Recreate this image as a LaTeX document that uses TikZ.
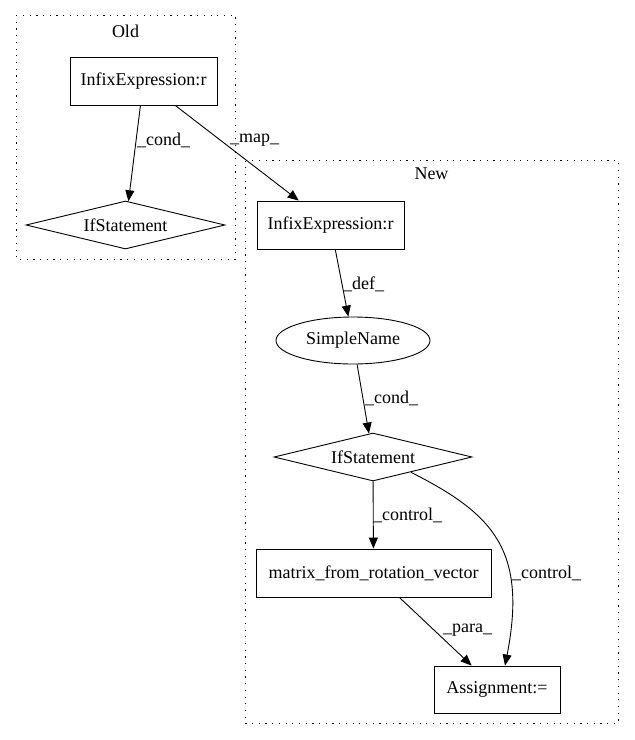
\documentclass[tikz,border=0pt]{standalone}
\usepackage{fontspec}
\setmainfont{Liberation Serif}
\usetikzlibrary{arrows.meta,shapes.geometric,calc}
\begin{document}
\begin{tikzpicture}[x=1pt,y=-1pt,
  every node/.style={font=\fontsize{18}{21}\selectfont},
  box/.style={draw,line width=0.9pt,rectangle,inner sep=0pt,minimum height=48pt},
  dia/.style={draw,line width=0.9pt,diamond,aspect=4.15,inner sep=0pt,minimum width=199pt,minimum height=48pt},
  ell/.style={draw,line width=0.9pt,ellipse,inner sep=0pt,minimum width=154pt,minimum height=47pt},
  cluster/.style={draw,line width=0.9pt,dash pattern=on 1.2pt off 5.5pt},
  edge/.style={draw,line width=0.9pt,-{Triangle[length=11pt,width=9pt]}},
  lbl/.style={inner sep=0pt,anchor=west}
]
\useasboundingbox[fill=white] (0,0) rectangle (635,740);
% clusters
\draw[cluster] (16,15) rectangle (235,259);
\draw[cluster] (245,160.5) rectangle (618,723);
\node (oldlbl) at (125.5,31) {Old};
\node (newlbl) at (431.5,174) {New};
% nodes
\node[box,minimum width=147pt] (oi) at (143.5,81) {InfixExpression:r};
\node[dia] (oif) at (125.5,225) {IfStatement};
\node[box,minimum width=147pt] (ni) at (330.5,225) {InfixExpression:r};
\node[ell] (sn) at (353,340.5) {SimpleName};
\node[dia,minimum width=198pt] (nif) at (373,457) {IfStatement};
\node[box,minimum width=235pt] (mx) at (373.5,573) {matrix\_from\_rotation\_vector};
\node[box,minimum width=126pt,minimum height=47pt] (as) at (497,689.5) {Assignment:=};
% edges
\path[edge] (oi) -- (oif);
\path[edge] (oi) -- (ni);
\path[edge] (ni) -- (sn);
\path[edge] (sn) -- (nif);
\path[edge] (nif) -- (mx);
\path[edge] (mx) -- (as);
\path[edge] ($(nif.south)!0.38!(nif.east)$) .. controls (491,513) and (528,548) .. ($(as.north)+(8,0)$);
% labels
\node[lbl] (l1) at (137,140) {\_cond\_};
\node[lbl] (l2) at (230,140) {\_map\_};
\node[lbl] (l3) at (343,284) {\_def\_};
\node[lbl] (l4) at (365,398) {\_cond\_};
\node[lbl] (l5) at (373,515) {\_control\_};
\node[lbl] (l6) at (443,630) {\_para\_};
\node[lbl] (l7) at (512,573) {\_control\_};
\end{tikzpicture}
\end{document}
